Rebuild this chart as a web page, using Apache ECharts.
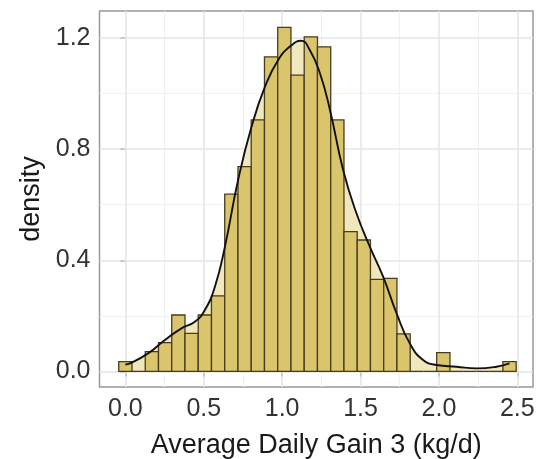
<!DOCTYPE html>
<html>
<head>
<meta charset="utf-8">
<script src="https://cdn.jsdelivr.net/npm/echarts@6/dist/echarts.min.js"></script>
<style>
  html, body { margin: 0; padding: 0; background: #fff; }
  #chart { width: 538px; height: 459px; }
</style>
</head>
<body>
<div id="chart"></div>
<script>
// Histogram bins (centres) and their density heights
var binWidth = 0.0845;
var binCenters = [0.000, 0.0845, 0.169, 0.2535, 0.338, 0.4225, 0.507, 0.5915, 0.676, 0.7605,
  0.845, 0.9295, 1.014, 1.0985, 1.183, 1.2675, 1.352, 1.4365, 1.521, 1.6055,
  1.69, 1.7745, 1.859, 1.9435, 2.028, 2.1125, 2.197, 2.2815, 2.366, 2.4505];
var binDensity = [0.035, 0.0, 0.071, 0.104, 0.203, 0.137, 0.203, 0.272, 0.638, 0.737,
  0.905, 1.132, 1.238, 1.066, 1.204, 1.168, 0.905, 0.503, 0.473, 0.331,
  0.335, 0.135, 0.0, 0.0, 0.068, 0.0, 0.0, 0.0, 0.0, 0.035];

// Kernel density curve
var kdeX = [0.0, 0.029, 0.145, 0.252, 0.358, 0.443, 0.507, 0.571, 0.635, 0.719, 0.805, 0.890,
  0.975, 1.06, 1.12, 1.177, 1.241, 1.305, 1.389, 1.474, 1.559, 1.644, 1.73, 1.814,
  1.899, 1.985, 2.112, 2.24, 2.367, 2.45];
var kdeY = [0.025, 0.029, 0.065, 0.113, 0.155, 0.179, 0.221, 0.305, 0.449, 0.689, 0.881, 1.024,
  1.121, 1.174, 1.19, 1.156, 1.073, 0.941, 0.725, 0.569, 0.449, 0.341, 0.209, 0.101,
  0.041, 0.023, 0.017, 0.011, 0.017, 0.029];

// Axis ticks
var xTicks = [0, 0.5, 1.0, 1.5, 2.0, 2.5];
var xMinor = [0.25, 0.75, 1.25, 1.75, 2.25];
var yTicks = [0, 0.4, 0.8, 1.2];
var yMinor = [0.2, 0.6, 1.0];

var bars = binCenters.map(function (c, i) { return [c, binDensity[i]]; });
var kde = kdeX.map(function (x, i) { return [x, kdeY[i]]; });

var minorStyle = { color: '#f0f0f0', width: 1, type: 'solid' };
var majorStyle = { color: '#e4e4e4', width: 1.5, type: 'solid' };
var gridLines = []
  .concat(xMinor.map(function (v) { return { xAxis: v, lineStyle: minorStyle }; }))
  .concat(yMinor.map(function (v) { return { yAxis: v, lineStyle: minorStyle }; }))
  .concat(xTicks.map(function (v) { return { xAxis: v, lineStyle: majorStyle }; }))
  .concat(yTicks.map(function (v) { return { yAxis: v, lineStyle: majorStyle }; }));

var font = 'Liberation Sans, Arial, sans-serif';

var option = {
  animation: false,
  grid: {
    left: 99.5, right: 5, top: 11, bottom: 72,
    containLabel: false, outerBoundsMode: 'none',
    show: true, borderColor: '#999', borderWidth: 1.5, backgroundColor: '#fff'
  },
  xAxis: {
    type: 'value', min: -0.165, max: 2.6,
    name: 'Average Daily Gain 3 (kg/d)', nameLocation: 'middle', nameGap: 45,
    nameTextStyle: { fontFamily: font, fontSize: 27, color: '#1a1a1a' },
    axisLine: { show: false },
    axisTick: { show: true, length: 5, customValues: xTicks, lineStyle: { color: '#555', width: 1.5 } },
    axisLabel: {
      customValues: xTicks, margin: 10, fontFamily: font, fontSize: 25, color: '#333',
      formatter: function (v) { return v.toFixed(1); }
    },
    splitLine: { show: false }
  },
  yAxis: {
    type: 'value', min: -0.056, max: 1.297,
    name: 'density', nameLocation: 'middle', nameGap: 54,
    nameTextStyle: { fontFamily: font, fontSize: 27, color: '#1a1a1a' },
    axisLine: { show: false },
    axisTick: { show: true, length: 5, customValues: yTicks, lineStyle: { color: '#555', width: 1.5 } },
    axisLabel: {
      customValues: yTicks, margin: 9, fontFamily: font, fontSize: 25, color: '#333',
      formatter: function (v) { return v.toFixed(1); }
    },
    splitLine: { show: false }
  },
  series: [
    {
      // density fill behind the bars, also carries the grid lines
      type: 'line', data: kde, smooth: 0.5, showSymbol: false,
      lineStyle: { width: 0 }, areaStyle: { color: '#f1e7bd', opacity: 1 },
      z: 2, silent: true,
      markLine: { silent: true, symbol: 'none', z: 1, label: { show: false }, data: gridLines }
    },
    {
      type: 'custom', data: bars, z: 3,
      encode: { x: 0, y: 1 },
      renderItem: function (params, api) {
        var c = api.value(0), h = api.value(1);
        var p0 = api.coord([c - binWidth / 2, h]);
        var p1 = api.coord([c + binWidth / 2, 0]);
        return {
          type: 'rect',
          shape: { x: p0[0], y: p0[1], width: p1[0] - p0[0], height: p1[1] - p0[1] },
          style: { fill: '#dac56d', stroke: '#463d20', lineWidth: 1.3 }
        };
      }
    },
    {
      type: 'line', data: kde, smooth: 0.5, showSymbol: false,
      lineStyle: { color: '#111', width: 1.9 }, z: 4, silent: true
    }
  ]
};

var chart = echarts.init(document.getElementById('chart'), null, { renderer: 'canvas' });
chart.setOption(option);
</script>
</body>
</html>
